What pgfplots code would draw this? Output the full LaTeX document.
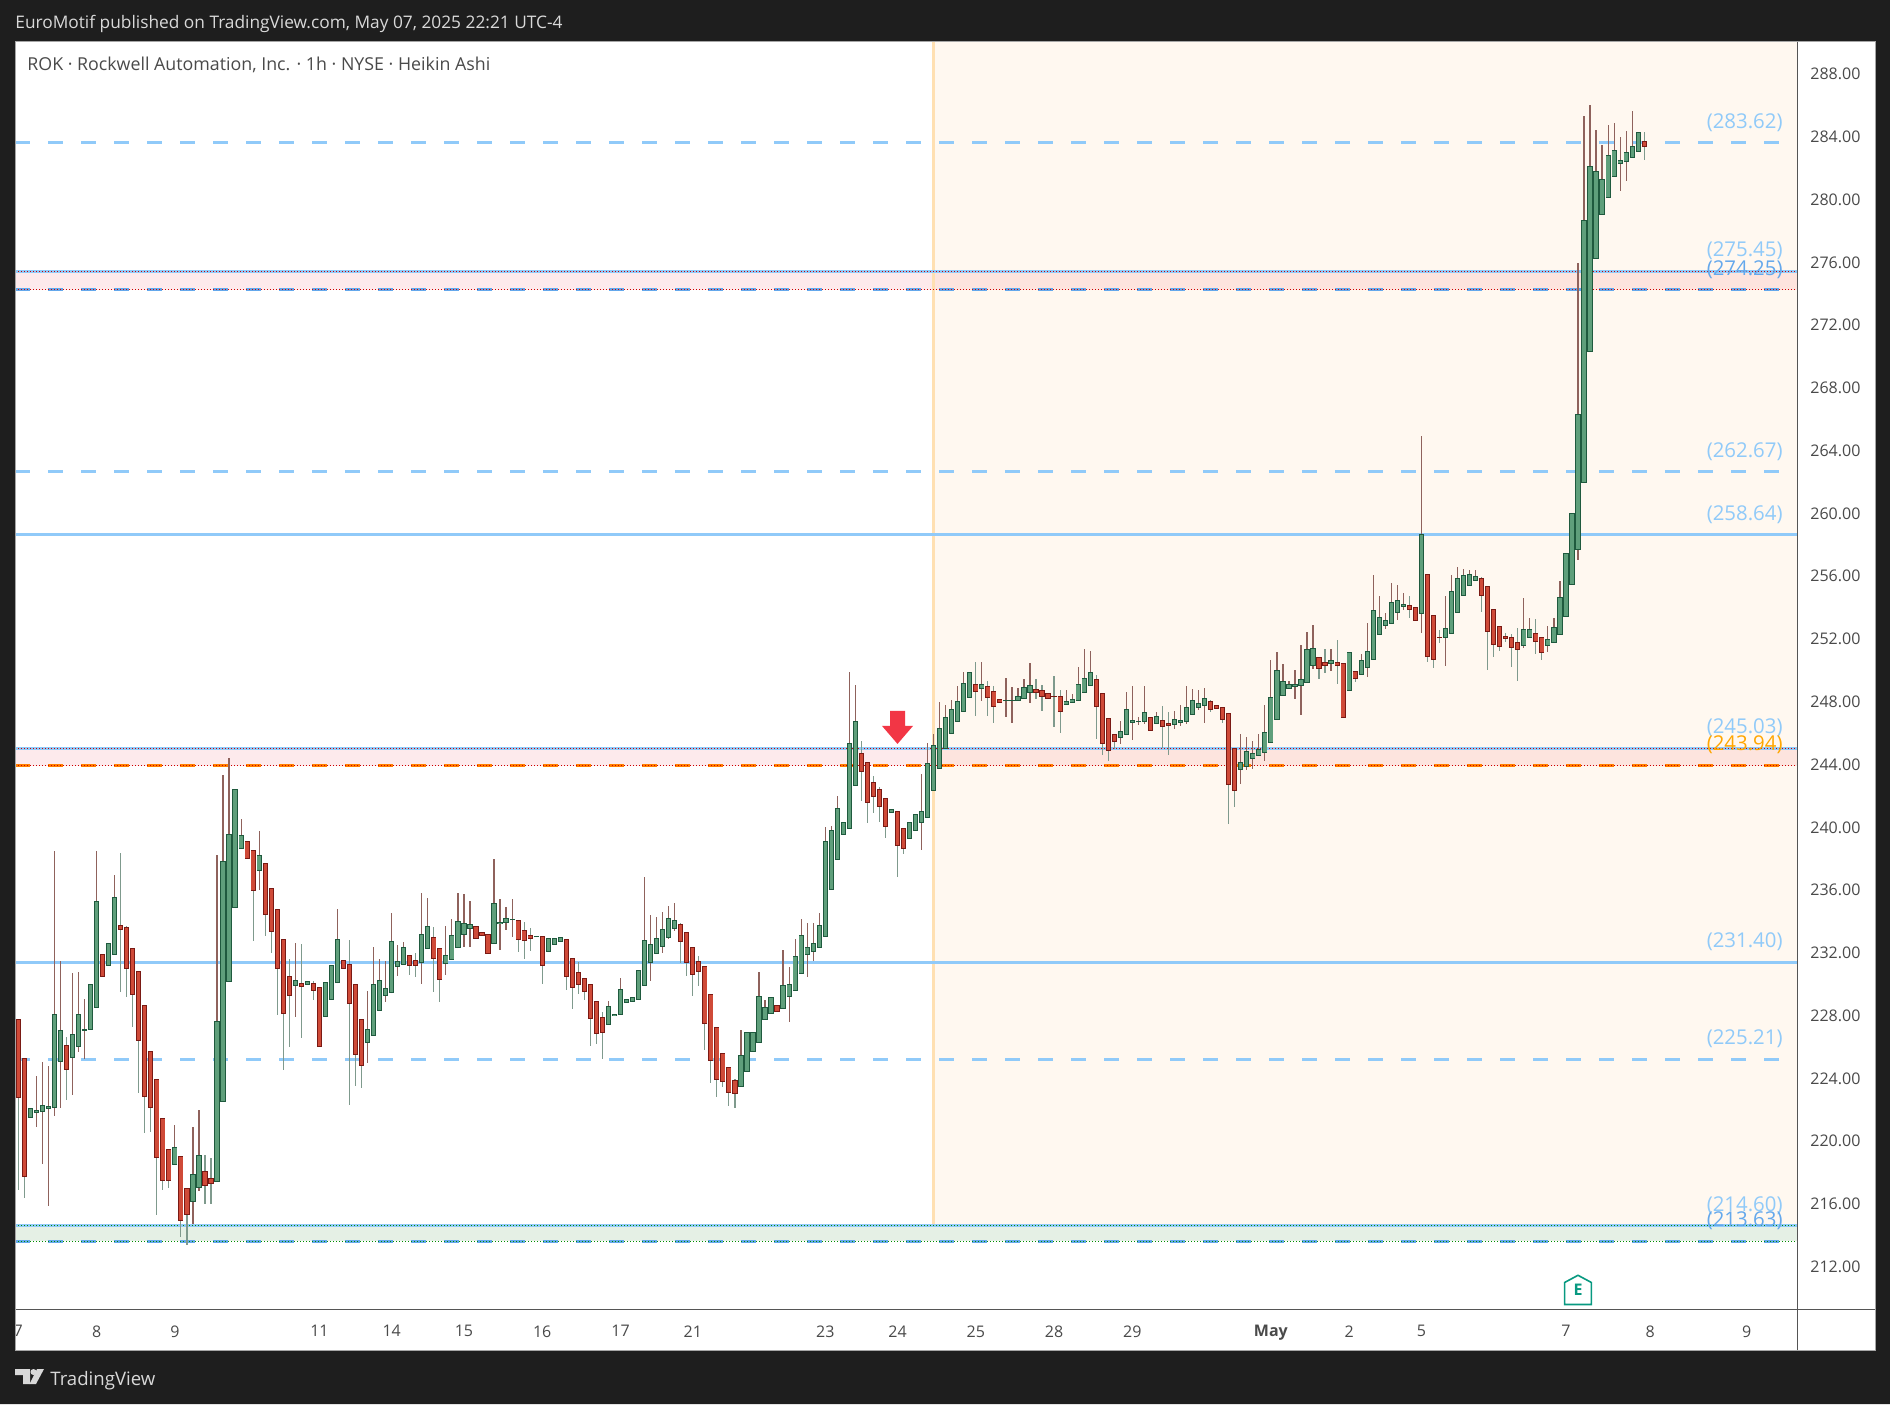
\documentclass[border=0pt]{standalone}
\usepackage{fontspec}
\setmainfont{Open Sans}
\usepackage{pgfplots}
\usepackage{pgfplotstable}
\pgfplotsset{compat=1.18}

\definecolor{frame}{HTML}{1E1E1E}
\definecolor{axline}{HTML}{555555}
\definecolor{ticktxt}{HTML}{4A4A4A}
\definecolor{lvl}{HTML}{90CAF9}
\definecolor{lvldeep}{HTML}{64A8EC}
\definecolor{sess}{HTML}{FFF8F0}
\definecolor{sessline}{HTML}{FFE0B2}
\definecolor{upfill}{HTML}{5F9F7B}
\definecolor{upedge}{HTML}{1F5A3E}
\definecolor{upwick}{HTML}{8F625C}
\definecolor{dnfill}{HTML}{CF4A38}
\definecolor{dnedge}{HTML}{7A1A14}
\definecolor{dnwick}{HTML}{7F9A8D}
\definecolor{tvred}{HTML}{F23645}
\definecolor{tvteal}{HTML}{089981}

% x o c h l (Heikin Ashi bars, read off the picture)
\pgfplotstableread{
x o c h l
0 227.77 222.78 227.77 216.91
1 225.26 217.75 225.26 216.41
2 221.51 222.08 222.08 221.51
3 221.83 221.96 224.15 220.92
4 221.89 222.28 225.04 218.57
5 222.10 222.21 224.79 215.89
6 222.15 228.09 238.49 221.62
7 225.08 227.06 231.48 222.12
8 226.11 224.58 226.65 222.65
9 225.33 226.81 230.70 222.96
10 226.04 228.09 230.77 225.70
11 227.06 227.13 229.04 225.24
12 227.13 230.00 230.00 227.13
13 228.52 235.28 238.49 228.52
14 231.91 230.50 231.91 230.50
15 231.20 232.59 232.59 231.20
16 231.91 235.53 236.96 231.91
17 233.75 233.50 238.35 229.52
18 233.62 231.02 233.71 229.20
19 232.27 229.36 232.27 227.29
20 230.82 226.42 230.82 223.08
21 228.66 222.85 228.66 220.53
22 225.72 222.15 225.72 220.60
23 223.94 218.96 223.94 215.32
24 221.44 217.50 221.44 216.91
25 219.48 217.50 219.48 217.02
26 218.53 219.60 221.03 218.53
27 219.03 214.95 219.03 213.90
28 216.98 215.34 216.98 213.40
29 216.16 217.89 220.92 214.75
30 217.05 219.09 221.99 216.84
31 218.07 217.18 219.12 216.02
32 217.62 217.30 218.91 216.02
33 217.43 227.63 238.24 217.43
34 222.53 237.83 243.34 222.53
35 230.18 239.56 244.41 230.18
36 234.89 242.43 242.43 234.89
37 238.67 239.49 240.54 238.67
38 239.10 238.03 239.10 238.03
39 238.53 235.99 238.53 232.78
40 237.26 238.22 239.76 236.03
41 237.69 234.46 237.69 233.09
42 236.10 233.37 236.10 232.00
43 234.78 231.02 234.78 228.06
44 232.87 228.15 232.87 224.56
45 230.50 229.29 231.61 226.02
46 229.93 230.25 232.62 227.93
47 230.04 229.86 232.57 226.58
48 230.00 230.18 230.18 230.00
49 230.04 229.61 230.18 229.02
50 229.79 226.04 229.79 226.04
51 227.95 230.11 230.11 227.95
52 229.04 231.20 231.20 229.04
53 230.11 232.87 234.80 230.11
54 231.52 231.02 231.52 231.02
55 231.27 228.79 232.82 222.33
56 230.00 225.54 230.00 223.53
57 227.77 224.83 227.77 223.40
58 226.29 227.13 229.57 224.99
59 226.74 230.00 232.37 226.74
60 228.34 230.25 231.61 228.34
61 229.29 229.73 231.48 228.88
62 229.47 232.73 234.53 229.47
63 231.14 231.46 232.50 230.54
64 231.27 232.34 232.68 231.27
65 231.84 231.20 231.84 230.59
66 231.52 231.20 231.98 230.48
67 231.39 233.19 235.80 230.04
68 232.30 233.69 235.48 232.30
69 232.98 231.66 233.64 229.52
70 232.27 230.32 232.27 228.88
71 231.34 231.84 233.71 230.59
72 231.59 233.12 234.16 231.59
73 232.34 234.00 235.80 232.34
74 233.19 233.87 235.76 232.39
75 233.57 233.82 235.30 232.39
76 233.69 232.92 233.69 232.92
77 233.31 233.11 233.31 233.11
78 233.18 231.97 233.18 231.97
79 232.61 235.15 237.98 232.61
80 233.86 233.94 235.43 232.20
81 233.94 234.20 234.92 233.48
82 234.11 234.13 235.43 233.03
83 234.07 232.86 234.07 232.07
84 233.43 232.80 233.96 231.63
85 233.11 232.92 233.58 232.14
86 233.03 233.05 233.05 233.03
87 233.05 231.20 233.05 230.03
88 232.10 232.92 232.92 232.10
89 232.54 232.92 232.92 232.54
90 232.73 232.99 232.99 232.73
91 232.86 230.50 232.86 229.65
92 231.65 229.80 231.65 228.44
93 230.76 229.99 231.42 229.40
94 230.37 229.55 230.37 229.01
95 229.99 227.82 229.99 226.08
96 228.91 226.87 228.91 226.21
97 227.89 226.93 228.21 225.25
98 227.44 228.59 228.93 227.44
99 228.02 228.10 228.10 228.02
100 228.08 229.67 230.40 228.08
101 228.84 229.04 229.04 228.84
102 228.91 229.16 229.16 228.91
103 229.04 230.88 230.88 229.04
104 229.93 232.80 236.83 229.93
105 231.39 232.54 234.41 230.23
106 231.97 232.92 234.28 231.97
107 232.41 233.50 234.60 232.01
108 232.99 234.20 234.98 232.90
109 233.56 234.07 235.18 233.41
110 233.82 232.73 233.90 231.37
111 233.31 231.39 233.31 230.54
112 232.35 230.63 232.35 229.27
113 231.46 230.82 231.80 229.91
114 231.14 227.51 231.14 225.81
115 229.35 225.15 229.35 223.72
116 227.25 223.94 227.25 222.83
117 225.59 223.81 225.59 223.47
118 224.70 223.11 224.70 222.26
119 223.87 223.04 223.94 222.13
120 223.49 225.47 227.08 223.49
121 224.45 226.93 226.93 224.45
122 225.72 226.93 226.93 225.72
123 226.30 229.23 230.78 226.30
124 227.76 228.53 228.99 227.76
125 228.14 229.16 229.16 228.14
126 228.65 228.27 228.65 228.27
127 228.46 229.93 232.18 228.46
128 229.23 229.99 231.10 227.61
129 229.61 231.78 232.88 229.61
130 230.69 233.11 234.16 230.69
131 231.90 232.35 233.90 230.48
132 232.10 232.61 233.90 231.46
133 232.35 233.75 234.54 232.35
134 233.05 239.11 240.02 233.05
135 236.05 239.81 240.08 236.05
136 237.96 241.21 242.00 237.96
137 239.55 240.32 240.32 239.55
138 239.93 245.35 249.90 239.93
139 242.68 246.75 249.10 242.68
140 244.71 243.57 245.50 241.70
141 244.14 241.59 244.14 240.30
142 242.87 241.97 243.27 240.93
143 242.42 241.34 242.57 240.36
144 241.85 240.06 241.85 239.34
145 240.95 241.15 241.15 240.95
146 241.02 238.85 241.02 236.85
147 239.93 238.66 239.93 238.32
148 239.30 240.32 240.32 239.30
149 239.81 240.83 240.83 239.81
150 240.32 241.02 243.40 238.57
151 240.64 244.08 245.37 240.64
152 242.36 245.22 245.95 242.36
153 243.76 246.31 247.99 243.76
154 245.03 247.01 247.80 245.03
155 245.99 247.52 248.09 245.99
156 246.76 248.03 249.01 246.76
157 247.39 249.18 249.90 247.39
158 248.28 249.88 249.88 248.28
159 249.11 248.67 250.54 247.12
160 248.86 249.11 250.54 248.07
161 248.99 248.28 249.30 247.12
162 248.67 247.71 249.01 246.67
163 248.16 247.97 248.16 247.97
164 248.07 248.09 249.52 247.03
165 248.07 248.09 248.94 246.67
166 248.09 248.35 248.88 248.09
167 248.22 248.92 249.43 248.22
168 248.60 249.05 250.47 247.95
169 248.79 248.60 249.45 248.20
170 248.73 248.35 249.07 247.44
171 248.54 248.22 248.54 248.22
172 248.35 248.33 249.64 246.42
173 248.35 247.39 248.75 246.03
174 247.84 248.03 248.75 247.84
175 247.97 248.16 248.50 247.97
176 248.09 249.11 250.22 248.09
177 248.60 249.50 251.37 248.60
178 249.05 249.88 251.24 249.05
179 249.43 247.71 249.71 245.65
180 248.54 245.35 248.54 244.63
181 246.95 244.91 246.95 244.25
182 245.93 245.48 245.93 244.97
183 245.74 246.12 246.78 245.33
184 245.93 247.52 248.62 245.93
185 246.69 246.82 249.01 245.59
186 246.73 246.76 247.03 246.54
187 246.76 247.33 249.01 246.61
188 247.01 246.18 247.01 246.18
189 246.63 247.07 247.33 246.63
190 246.82 246.44 247.73 245.03
191 246.63 246.50 247.35 244.63
192 246.56 246.88 247.41 246.29
193 246.69 246.82 247.80 246.46
194 246.76 247.65 249.01 246.61
195 247.20 248.09 248.82 247.20
196 247.65 247.90 248.75 247.46
197 247.78 248.22 248.88 246.67
198 248.03 247.52 248.12 247.37
199 247.78 247.58 247.78 247.58
200 247.65 246.88 247.65 246.67
201 247.27 242.74 247.27 240.23
202 245.03 242.36 245.03 241.32
203 243.70 244.14 245.97 242.78
204 243.89 244.84 245.76 243.65
205 244.40 244.72 245.50 243.74
206 244.59 244.97 245.97 244.59
207 244.78 246.05 247.80 244.25
208 245.42 248.28 250.66 245.42
209 246.88 250.01 251.17 246.88
210 248.41 249.30 250.41 248.41
211 248.86 249.11 249.33 248.86
212 248.99 249.11 250.03 248.20
213 249.05 249.43 251.62 247.18
214 249.24 251.34 252.45 249.24
215 250.32 251.41 252.90 250.07
216 250.83 250.13 250.83 249.47
217 250.52 250.32 251.37 249.86
218 250.45 250.64 251.37 249.98
219 250.52 250.32 251.94 249.16
220 250.45 247.01 250.45 247.01
221 248.73 251.15 251.15 248.73
222 249.94 249.50 249.94 249.24
223 249.75 250.64 251.05 249.75
224 250.20 251.22 253.02 249.56
225 250.71 253.83 256.08 250.71
226 252.30 253.39 254.75 252.30
227 252.88 253.20 253.66 252.66
228 253.00 254.34 255.58 253.00
229 253.71 254.47 255.45 253.22
230 254.09 254.22 254.94 253.85
231 254.15 253.90 254.75 253.37
232 254.02 253.20 254.02 253.20
233 253.64 258.68 264.94 252.41
234 256.13 250.90 256.13 250.56
235 253.51 250.71 253.51 250.18
236 252.11 252.09 252.58 251.77
237 252.11 252.69 254.75 250.31
238 252.37 255.04 256.08 252.37
239 253.71 255.87 256.59 253.71
240 254.79 256.06 256.47 254.79
241 255.43 256.13 256.40 255.43
242 255.74 256.00 256.40 255.74
243 255.87 254.79 255.96 253.75
244 255.36 252.49 255.36 250.05
245 253.90 251.67 253.90 250.88
246 252.81 251.54 252.81 251.26
247 252.18 252.05 252.39 251.84
248 252.11 251.47 252.30 250.24
249 251.79 251.35 252.71 249.35
250 251.60 252.62 254.62 251.45
251 252.11 252.62 253.34 252.11
252 252.37 251.86 253.28 251.07
253 252.11 251.16 252.11 250.69
254 251.60 251.98 252.83 251.20
255 251.79 252.75 253.34 251.79
256 252.30 254.66 255.70 252.30
257 253.45 257.47 257.47 253.45
258 255.49 260.02 260.02 255.49
259 257.72 266.32 275.95 257.06
260 261.99 278.69 285.34 261.99
261 270.34 282.13 286.04 270.34
262 276.27 281.81 284.44 276.27
263 279.07 281.30 283.49 279.07
264 280.15 282.83 284.76 280.15
265 281.49 283.15 284.89 281.49
266 282.32 282.51 284.00 280.58
267 282.45 283.02 284.38 281.22
268 282.70 283.40 285.66 282.70
269 283.08 284.30 284.30 283.08
270 283.72 283.40 284.32 282.53
}\bars

\pgfdeclareplotmark{tvarrow}{%
  \pgfpathmoveto{\pgfqpoint{-3.75pt}{8pt}}%
  \pgfpathlineto{\pgfqpoint{3.75pt}{8pt}}%
  \pgfpathlineto{\pgfqpoint{3.75pt}{0.5pt}}%
  \pgfpathlineto{\pgfqpoint{7.75pt}{0.5pt}}%
  \pgfpathlineto{\pgfqpoint{0pt}{-8.5pt}}%
  \pgfpathlineto{\pgfqpoint{-7.75pt}{0.5pt}}%
  \pgfpathlineto{\pgfqpoint{-3.75pt}{0.5pt}}%
  \pgfpathclose\pgfusepathqfill}
\pgfdeclareplotmark{tvearn}{%
  \pgfpathmoveto{\pgfqpoint{-6.7pt}{-7.2pt}}%
  \pgfpathlineto{\pgfqpoint{6.7pt}{-7.2pt}}%
  \pgfpathlineto{\pgfqpoint{6.7pt}{3.8pt}}%
  \pgfpathlineto{\pgfqpoint{0pt}{7.4pt}}%
  \pgfpathlineto{\pgfqpoint{-6.7pt}{3.8pt}}%
  \pgfpathclose\pgfusepathqfillstroke}

\pgfplotsset{
  lvlsolid/.style={lvl,line width=1.5pt,forget plot},
  lvldash/.style={lvl,line width=1.5pt,dash pattern=on 7.5pt off 9pt,forget plot},
  dots/.style={line width=0.5pt,dash pattern=on 0.5pt off 1pt,forget plot},
  wick/.style={only marks,mark size=0pt,mark options={draw=none,fill=none},forget plot,
    error bars/y dir=both,error bars/y explicit,error bars/error mark=none,
    error bars/error bar style={line width=0.6pt,solid,color=#1}},
  body/.style 2 args={only marks,mark size=0pt,mark options={draw=none,fill=none},forget plot,
    error bars/y dir=plus,error bars/y explicit,error bars/error mark=none,
    error bars/error bar style={line width=#1,solid,color=#2}},
}
\newcommand{\pricetag}[3][lvl]{\node[anchor=south east,inner sep=0pt,text=#1,font=\fontsize{10.2}{10.2}\selectfont]
  at (axis cs:293.04,#2) [yshift=#3pt] {(#2)};}

\begin{document}
\begin{tikzpicture}[x=0.5pt,y=-0.5pt]
\useasboundingbox (0,0) rectangle (1890,1404);
\fill[white] (15,41) rectangle (1875,1350);
\begin{axis}[
  at={(7.5pt,-655pt)},anchor=south west,
  scale only axis,width=891pt,height=634pt,
  xmin=-0.548,xmax=295.37,ymin=209.24,ymax=290.05,
  axis line style={draw=none},
  major tick length=0pt,
  xticklabel pos=bottom,yticklabel pos=right,
  ytick={212,216,...,288},
  xtick={0,13,26,50,62,74,87,100,112,134,146,159,172,185,208,221,233,257,271,287},
  xticklabels={7,8,9,11,14,15,16,17,21,23,24,25,28,29,\textbf{May},2,5,7,8,9},
  /pgf/number format/.cd,fixed,fixed zerofill,precision=2,1000 sep={},assume math mode=true,
  /pgfplots/.cd,
  tick label style={font=\fontsize{8}{8}\selectfont,text=ticktxt,inner sep=0pt},
  yticklabel style={xshift=6.5pt,anchor=west},
  xticklabel style={yshift=-7.5pt},
]
% session background and zones
\addplot[fill=sess,draw=none,forget plot] coordinates {(152,214.60)(295.37,214.60)(295.37,290.05)(152,290.05)} -- cycle;
\addplot[fill=tvred,fill opacity=0.1,draw=none,forget plot] coordinates {(-0.548,243.94)(295.37,243.94)(295.37,245.03)(-0.548,245.03)} -- cycle;
\addplot[fill=tvred,fill opacity=0.1,draw=none,forget plot] coordinates {(-0.548,274.25)(295.37,274.25)(295.37,275.45)(-0.548,275.45)} -- cycle;
\addplot[fill=green!45!black,fill opacity=0.1,draw=none,forget plot] coordinates {(-0.548,213.63)(295.37,213.63)(295.37,214.60)(-0.548,214.60)} -- cycle;
\addplot[sessline,line width=1.5pt,forget plot] coordinates {(152,214.60)(152,290.05)};
% price levels
\addplot[lvldash] coordinates {(-0.548,283.62)(295.37,283.62)};
\addplot[lvlsolid] coordinates {(-0.548,275.45)(295.37,275.45)};
\addplot[lvldash,color=lvldeep] coordinates {(-0.548,274.25)(295.37,274.25)};
\addplot[lvldash] coordinates {(-0.548,262.67)(295.37,262.67)};
\addplot[lvlsolid] coordinates {(-0.548,258.64)(295.37,258.64)};
\addplot[lvlsolid] coordinates {(-0.548,245.03)(295.37,245.03)};
\addplot[lvldash,color=orange] coordinates {(-0.548,243.94)(295.37,243.94)};
\addplot[lvlsolid] coordinates {(-0.548,231.40)(295.37,231.40)};
\addplot[lvldash] coordinates {(-0.548,225.21)(295.37,225.21)};
\addplot[lvlsolid] coordinates {(-0.548,214.60)(295.37,214.60)};
\addplot[lvldash,color=lvldeep] coordinates {(-0.548,213.63)(295.37,213.63)};
\addplot[dots,red!80!black] coordinates {(-0.548,275.45)(295.37,275.45)};
\addplot[dots,red!80!black] coordinates {(-0.548,274.25)(295.37,274.25)};
\addplot[dots,red!80!black] coordinates {(-0.548,245.03)(295.37,245.03)};
\addplot[dots,red!80!black] coordinates {(-0.548,243.94)(295.37,243.94)};
\addplot[dots,green!55!black] coordinates {(-0.548,214.60)(295.37,214.60)};
\addplot[dots,green!55!black] coordinates {(-0.548,213.63)(295.37,213.63)};
% wicks
\addplot[wick=upwick,restrict expr to domain={\thisrow{c}-\thisrow{o}}{0:1000}]
  table[x=x,y=c,y error plus expr=\thisrow{h}-\thisrow{c},y error minus expr=\thisrow{c}-\thisrow{l}] {\bars};
\addplot[wick=dnwick,restrict expr to domain={\thisrow{c}-\thisrow{o}}{-1000:-0.000001}]
  table[x=x,y=c,y error plus expr=\thisrow{h}-\thisrow{c},y error minus expr=\thisrow{c}-\thisrow{l}] {\bars};
% bodies: dark edge, then lighter inside
\addplot[body={2.6pt}{upedge},restrict expr to domain={\thisrow{c}-\thisrow{o}}{0:1000}]
  table[x=x,y expr=\thisrow{o}-0.03,y error plus expr=\thisrow{c}-\thisrow{o}+0.06] {\bars};
\addplot[body={1.7pt}{upfill},restrict expr to domain={\thisrow{c}-\thisrow{o}}{0.075:1000}]
  table[x=x,y expr=\thisrow{o}+0.035,y error plus expr=\thisrow{c}-\thisrow{o}-0.07] {\bars};
\addplot[body={2.6pt}{dnedge},restrict expr to domain={\thisrow{o}-\thisrow{c}}{0.000001:1000}]
  table[x=x,y expr=\thisrow{c}-0.03,y error plus expr=\thisrow{o}-\thisrow{c}+0.06] {\bars};
\addplot[body={1.7pt}{dnfill},restrict expr to domain={\thisrow{o}-\thisrow{c}}{0.075:1000}]
  table[x=x,y expr=\thisrow{c}+0.035,y error plus expr=\thisrow{o}-\thisrow{c}-0.07] {\bars};
% signal arrow and earnings flag
\addplot[only marks,mark=tvarrow,mark options={fill=tvred,draw=none},forget plot] coordinates {(146,246.4)};
\addplot[only marks,mark=tvearn,mark options={fill=white,draw=tvteal,line width=0.8pt},forget plot,
  nodes near coords={E},
  every node near coord/.style={anchor=center,inner sep=0pt,text=tvteal,font=\fontsize{8}{8}\selectfont\bfseries}]
  coordinates {(259,210.51)};
% level tags
\pricetag{283.62}{5.5}
\pricetag{275.45}{5.5}
\pricetag[lvldeep]{274.25}{5.5}
\pricetag{262.67}{5.5}
\pricetag{258.64}{5.5}
\pricetag{245.03}{5.5}
\pricetag[orange!70!yellow]{243.94}{5.5}
\pricetag{231.40}{5.5}
\pricetag{225.21}{5.5}
\pricetag{214.60}{5.5}
\pricetag[lvldeep]{213.63}{5.5}
\end{axis}
% frame
\fill[frame,even odd rule] (0,0) rectangle (1890,1404) (15,41) rectangle (1875,1350);
\draw[axline,line width=0.5pt] (1797,41) -- (1797,1350) (15,1309) -- (1875,1309);
\draw[gray!70,line width=0.5pt] (15,41) rectangle (1875,1350);
\node[anchor=west,inner sep=0pt,text=gray!30,font=\fontsize{8.65}{8.65}\selectfont] at (15,24) {EuroMotif published on TradingView.com, May 07, 2025 22:21 UTC-4};
\node[anchor=west,inner sep=0pt,text=ticktxt,font=\fontsize{8.9}{8.9}\selectfont] at (27,65) {ROK · Rockwell Automation, Inc. · 1h · NYSE · Heikin Ashi};
% TradingView mark
\fill[gray!30] (15,1369) -- (30,1369) -- (30,1384) -- (23,1384) -- (23,1375) -- (15,1375) -- cycle;
\fill[gray!30] (33.5,1372) circle (3);
\fill[gray!30] (37,1369) -- (44,1369) -- (36,1384) -- (29.5,1384) -- cycle;
\node[anchor=west,inner sep=0pt,text=gray!30,font=\fontsize{9.3}{9.3}\selectfont] at (50,1381) {TradingView};
\end{tikzpicture}
\end{document}
